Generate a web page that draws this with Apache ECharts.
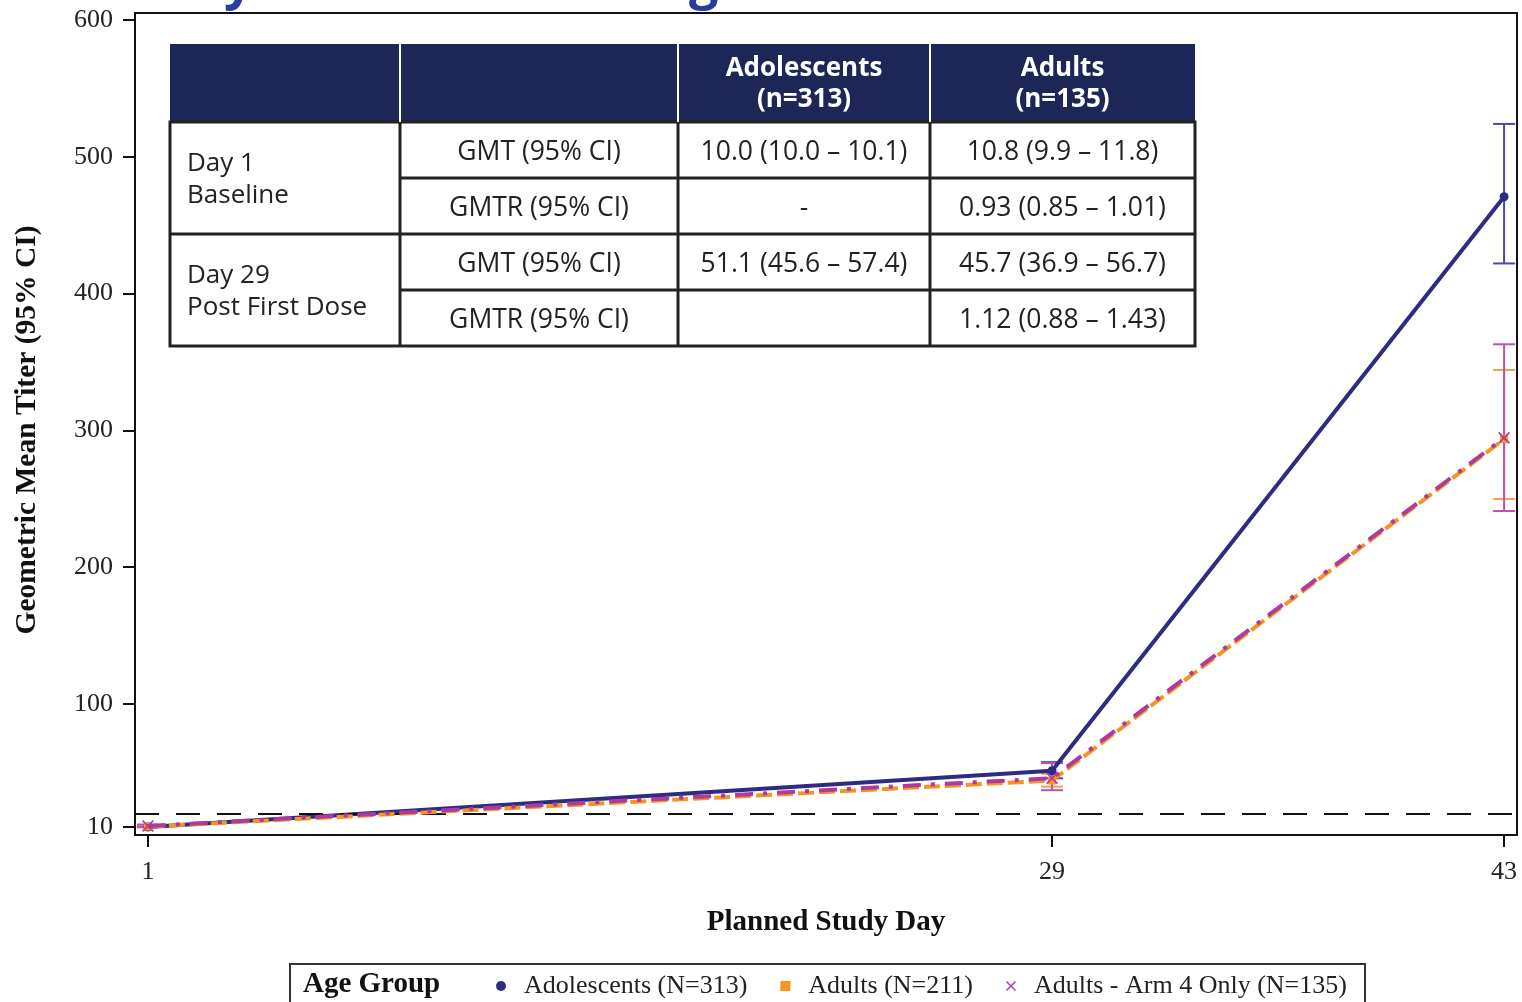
<!DOCTYPE html>
<html>
<head>
<meta charset="utf-8">
<script src="https://cdn.jsdelivr.net/npm/echarts@6/dist/echarts.min.js"></script>
<style>html,body{margin:0;padding:0;background:#fff;}#c{width:1522px;height:1002px;}</style>
</head>
<body>
<div id="c"></div>
<script>
// ---- data ----
const days = [1, 29, 43];
const xTicks = [1, 29, 43];
const yTicks = [10, 100, 200, 300, 400, 500, 600];
const seriesNames = ['Adolescents (N=313)', 'Adults (N=211)', 'Adults - Arm 4 Only (N=135)'];
const adolGMT  = [10.0, 51.1, 470.8];
const adolLow  = [10.0, 45.6, 422.0];
const adolHigh = [10.1, 57.4, 524.0];
const adultGMT  = [10.3, 44.0, 293.5];
const adultLow  = [9.8, 39.5, 249.8];
const adultHigh = [10.9, 49.0, 344.1];
const arm4GMT  = [10.8, 45.7, 294.5];
const arm4Low  = [9.9, 36.9, 241.0];
const arm4High = [11.8, 56.7, 362.9];
const refLine = 20;
const legendTitle = 'Age Group';
const xTitle = 'Planned Study Day';
const yTitle = 'Geometric Mean Titer (95% CI)';
const tableHeader = ['', '', 'Adolescents\n(n=313)', 'Adults\n(n=135)'];
const tableGroups = ['Day 1\nBaseline', 'Day 29\nPost First Dose'];
const tableStats = ['GMT (95% CI)', 'GMTR (95% CI)', 'GMT (95% CI)', 'GMTR (95% CI)'];
const tableAdol = ['10.0 (10.0 \u2013 10.1)', '-', '51.1 (45.6 \u2013 57.4)', ''];
const tableAdult = ['10.8 (9.9 \u2013 11.8)', '0.93 (0.85 \u2013 1.01)', '45.7 (36.9 \u2013 56.7)', '1.12 (0.88 \u2013 1.43)'];

// ---- styles / layout ----
const colors = ['#2d2c82', '#f7941d', '#ad3a9e'];
const ciColors = ['#4c4aa6', '#f5a04a', '#c04fae'];
const serif = '"Liberation Serif", "Times New Roman", serif';
const sans = '"Open Sans", "Noto Sans", sans-serif';
const xShape = 'path://M0,1L1,0L5,4L9,0L10,1L6,5L10,9L9,10L5,6L1,10L0,9L4,5Z';

function pairs(xs, ys) { return xs.map((x, i) => [x, ys[i]]); }
function tri(xs, lo, hi) { return xs.map((x, i) => [x, lo[i], hi[i]]); }

function errorSeries(name, data, color) {
  return {
    type: 'custom', name: name, data: data, z: 3,
    itemStyle: { color: color },
    renderItem: function (params, api) {
      const x = api.value(0);
      const lo = api.coord([x, api.value(1)]);
      const hi = api.coord([x, api.value(2)]);
      const hw = 11;
      const st = { stroke: color, lineWidth: 2 };
      return { type: 'group', children: [
        { type: 'line', shape: { x1: lo[0], y1: lo[1], x2: hi[0], y2: hi[1] }, style: st },
        { type: 'line', shape: { x1: lo[0]-hw, y1: lo[1], x2: lo[0]+hw, y2: lo[1] }, style: st },
        { type: 'line', shape: { x1: hi[0]-hw, y1: hi[1], x2: hi[0]+hw, y2: hi[1] }, style: st }
      ]};
    },
    encode: { x: 0, y: [1, 2] },
    silent: true
  };
}

// table graphic
const colX = [170, 400, 678, 930, 1195];
const rowY = [44, 122, 178, 234, 290, 346];
const tg = [];
tg.push({ type: 'rect', shape: { x: colX[0], y: rowY[0], width: colX[4]-colX[0], height: rowY[1]-rowY[0] }, style: { fill: '#1c2758' }, z: 100 });
[1,2,3].forEach(i => tg.push({ type: 'line', shape: { x1: colX[i], y1: rowY[0], x2: colX[i], y2: rowY[1] }, style: { stroke: '#ffffff', lineWidth: 2 }, z: 101 }));
tg.push({ type: 'rect', shape: { x: colX[0], y: rowY[1], width: colX[4]-colX[0], height: rowY[5]-rowY[1] }, style: { fill: '#ffffff', stroke: '#222222', lineWidth: 3 }, z: 100 });
[1,2,3].forEach(i => tg.push({ type: 'line', shape: { x1: colX[i], y1: rowY[1], x2: colX[i], y2: rowY[5] }, style: { stroke: '#222222', lineWidth: 3 }, z: 101 }));
tg.push({ type: 'line', shape: { x1: colX[0], y1: rowY[3], x2: colX[4], y2: rowY[3] }, style: { stroke: '#222222', lineWidth: 3 }, z: 101 });
[2,4].forEach(r => tg.push({ type: 'line', shape: { x1: colX[1], y1: rowY[r], x2: colX[4], y2: rowY[r] }, style: { stroke: '#222222', lineWidth: 3 }, z: 101 }));
[2,3].forEach(c => tg.push({ type: 'text', x: (colX[c]+colX[c+1])/2, y: (rowY[0]+rowY[1])/2 + 1, z: 102,
  style: { text: tableHeader[c], fill: '#ffffff', font: 'bold 26px ' + sans, align: 'center', verticalAlign: 'middle', lineHeight: 31 } }));
tableGroups.forEach((t, g) => tg.push({ type: 'text', x: 187, y: (rowY[1+2*g]+rowY[3+2*g])/2 + 2, z: 102,
  style: { text: t, fill: '#222222', font: '26px ' + sans, align: 'left', verticalAlign: 'middle', lineHeight: 32 } }));
for (let r = 0; r < 4; r++) {
  const cy = (rowY[r+1]+rowY[r+2])/2 + 2;
  [[1, tableStats], [2, tableAdol], [3, tableAdult]].forEach(([c, arr]) => {
    tg.push({ type: 'text', x: (colX[c]+colX[c+1])/2, y: cy, z: 102,
      style: { text: arr[r], fill: '#222222', font: '26.5px ' + sans, align: 'center', verticalAlign: 'middle' } });
  });
}
// legend frame and title
tg.push({ type: 'rect', shape: { x: 290, y: 964, width: 1075, height: 60 }, style: { fill: 'none', stroke: '#333333', lineWidth: 2 }, z: 50 });
tg.push({ type: 'text', x: 303, y: 985, z: 51, style: { text: legendTitle, fill: '#111111', font: 'bold 29px ' + serif, align: 'left', verticalAlign: 'middle' } });
// rotated y-axis title
tg.push({ type: 'text', x: 27, y: 430, rotation: Math.PI / 2, z: 51,
  style: { text: yTitle, fill: '#111111', font: 'bold 29.5px ' + serif, align: 'center', verticalAlign: 'middle' } });
// cut-off slide title fragments
tg.push({ type: 'text', x: 224, y: 9, z: 51, style: { text: 'y', fill: '#2a3c9c', font: 'bold 52px ' + sans, align: 'left', verticalAlign: 'bottom' } });
tg.push({ type: 'text', x: 689, y: 9, z: 51, style: { text: 'g', fill: '#2a3c9c', font: 'bold 52px ' + sans, align: 'left', verticalAlign: 'bottom' } });

const chart = echarts.init(document.getElementById('c'), null, { renderer: 'canvas' });
chart.setOption({
  animation: false,
  backgroundColor: '#ffffff',
  grid: { left: 135, top: 13, right: 5, bottom: 167, show: true, borderColor: '#111', borderWidth: 2, backgroundColor: 'transparent' },
  xAxis: {
    type: 'value', min: 0.6, max: 43.4,
    name: xTitle, nameLocation: 'middle', nameGap: 73,
    nameTextStyle: { fontFamily: serif, fontWeight: 'bold', fontSize: 29, color: '#111' },
    axisLine: { show: true, lineStyle: { color: '#111', width: 2 } },
    axisTick: { show: true, length: 12, lineStyle: { color: '#111', width: 2 }, customValues: xTicks },
    axisLabel: { fontFamily: serif, fontSize: 26, color: '#222', margin: 24, customValues: xTicks },
    splitLine: { show: false }
  },
  yAxis: {
    type: 'value', min: 4.15, max: 605.1,
    axisLine: { show: true, lineStyle: { color: '#111', width: 2 } },
    axisTick: { show: true, length: 12, lineStyle: { color: '#111', width: 2 }, customValues: yTicks },
    axisLabel: { fontFamily: serif, fontSize: 26, color: '#222', margin: 22, customValues: yTicks },
    splitLine: { show: false }
  },
  legend: {
    left: 491, top: 968, itemGap: 33, itemWidth: 10, itemHeight: 10,
    textStyle: { fontFamily: serif, fontSize: 26, color: '#222', padding: [0, 0, 0, 13] },
    data: [
      { name: seriesNames[0], icon: 'circle', itemStyle: { color: colors[0] } },
      { name: seriesNames[1], icon: 'rect', itemStyle: { color: colors[1] } },
      { name: seriesNames[2], icon: xShape, itemStyle: { color: colors[2] } }
    ]
  },
  series: [
    {
      type: 'line', name: seriesNames[0], data: pairs(days, adolGMT), z: 4,
      symbol: 'circle', symbolSize: 9, itemStyle: { color: colors[0] },
      lineStyle: { color: colors[0], width: 4 },
      markLine: { silent: true, symbol: 'none', label: { show: false },
        lineStyle: { color: '#111', width: 2, type: [24, 17] },
        data: [{ yAxis: refLine }] }
    },
    {
      type: 'line', name: seriesNames[1], data: pairs(days, adultGMT), z: 5,
      symbol: 'rect', symbolSize: 8, itemStyle: { color: colors[1] },
      lineStyle: { color: colors[1], width: 4, type: [16, 5] }
    },
    {
      type: 'line', name: seriesNames[2], data: pairs(days, arm4GMT), z: 6,
      symbol: xShape, symbolSize: 12, itemStyle: { color: colors[2] },
      lineStyle: { color: colors[2], width: 4, type: [18, 10, 4, 10] }
    },
    errorSeries(seriesNames[0], tri(days, adolLow, adolHigh), ciColors[0]),
    errorSeries(seriesNames[1], tri(days, adultLow, adultHigh), ciColors[1]),
    errorSeries(seriesNames[2], tri(days, arm4Low, arm4High), ciColors[2])
  ],
  graphic: { elements: tg }
});
</script>
</body>
</html>
